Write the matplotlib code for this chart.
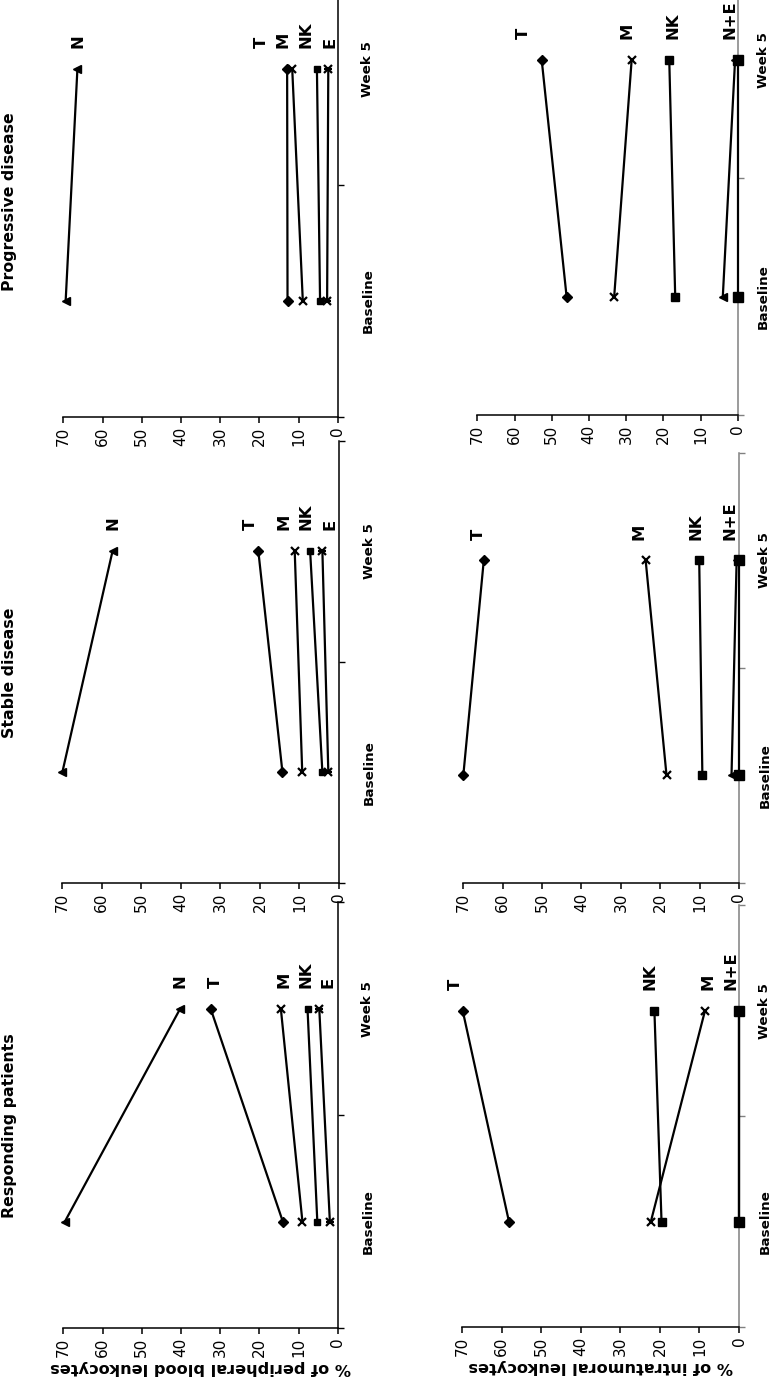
import matplotlib.pyplot as plt

W, H = 773, 1382

timepoints = ['Baseline', 'Week 5']
groups = ['Progressive disease', 'Stable disease', 'Responding patients']

# peripheral blood leukocytes (%), [baseline, week 5]
pb_cells = ['N', 'T', 'M', 'NK', 'E']
pb_progressive = [[69.4, 66.4], [12.8, 12.9], [8.9, 11.6], [4.5, 5.3], [2.7, 2.4]]
pb_stable = [[70.0, 57.3], [14.3, 20.4], [9.3, 11.2], [4.2, 7.3], [2.7, 4.2]]
pb_responding = [[69.6, 40.2], [14.0, 32.4], [9.0, 14.5], [5.2, 7.7], [2.0, 4.7]]

# intratumoral leukocytes (%), [baseline, week 5]
it_cells = ['T', 'M', 'NK', 'N', 'E']
it_progressive = [[46.0, 52.7], [33.2, 28.5], [16.8, 18.4], [4.0, 0.7], [0.0, 0.0]]
it_stable = [[70.0, 64.8], [18.4, 23.7], [9.3, 10.1], [1.9, 0.6], [0.0, 0.0]]
it_responding = [[58.2, 69.9], [22.3, 8.6], [19.6, 21.4], [0.0, 0.0], [0.0, 0.0]]

# series labels next to the week 5 points
pb_label_text = ['N', 'T', 'M', 'NK', 'E']
it_label_text = ['T', 'M', 'NK', 'N+E']

# layout (pixels) and label placement
pb_boxes = [(63.3, 337.7, 417, 232, 2.0), (62.3, 339, 883, 243, 1.82), (63.3, 337.7, 1328, 224, 1.9)]
it_boxes = [(477.3, 737.7, 415, 237, 2.0), (463.3, 739, 883, 239, 1.8), (462.3, 739, 1327, 222, 1.9)]
pb_label_x = [[66.2, 19.4, 13.9, 8.1, 2.0], [57.1, 22.5, 13.9, 8.3, 2.3], [40.2, 31.3, 13.7, 8.1, 2.4]]
it_label_x = [[57.5, 29.8, 17.5, 2.1], [66.2, 25.3, 10.9, 2.3], [71.8, 7.8, 22.5, 1.9]]
title_y = [202, 673, 1126]

pb_markers = {'N': ('<', 6), 'T': ('D', 5), 'M': ('x', 6), 'NK': ('s', 5), 'E': ('x', 6)}
it_markers = {'N': ('<', 6), 'T': ('D', 5), 'M': ('x', 6), 'NK': ('s', 5.5), 'E': ('s', 6.5)}

plt.rcParams['font.family'] = ['DejaVu Sans']
fig = plt.figure(figsize=(W / 100, H / 100), dpi=100)


def make_ax(box, spine_color, cat_pad):
    x0, x1, yb, unit, top = box
    ax = fig.add_axes([x0 / W, (H - yb) / H, (x1 - x0) / W, top * unit / H])
    ax.patch.set_visible(False)
    ax.set_xlim(70, 0)
    ax.set_ylim(0, top)
    ax.spines['left'].set_visible(False)
    ax.spines['top'].set_visible(False)
    ax.spines['bottom'].set_linewidth(1.1)
    ax.spines['right'].set_linewidth(1.1)
    ax.spines['right'].set_color(spine_color)
    ax.set_xticks(range(0, 71, 10))
    ax.tick_params(axis='x', direction='out', length=4, width=1.1, labelsize=11,
                   labelrotation=90, pad=3)
    ax.yaxis.tick_right()
    ax.set_yticks([0, 1, 2])
    ax.set_yticklabels([])
    ax.tick_params(axis='y', which='major', direction='out', length=4, width=1,
                   color=spine_color)
    ax.set_yticks([0.5, 1.5], timepoints, minor=True)
    ax.tick_params(axis='y', which='minor', length=0, pad=cat_pad, labelsize=9.7)
    for lbl in ax.get_yticklabels(minor=True):
        lbl.set_rotation(90)
        lbl.set_fontweight('bold')
        lbl.set_va('center')
        lbl.set_ha('left')
    return ax


def draw(ax, cells, data, markers, e_bar):
    pos = [i + 0.5 for i in range(len(timepoints))]
    for name, vals in zip(cells, data):
        m, ms = markers[name]
        mew = 1.6 if m == 'x' else 1
        ax.plot(vals, pos, color='black', lw=1.6, marker=m, ms=ms, mew=mew,
                mfc='black', mec='black', clip_on=False, zorder=3)
        if name == 'E' and e_bar:
            ax.plot(vals, pos, ls='none', marker='_', ms=6, mew=1.6,
                    color='black', clip_on=False, zorder=3)


def add_labels(ax, texts, xs):
    for t, x in zip(texts, xs):
        ax.annotate(t, xy=(x, 1.5), xytext=(0, 15), textcoords='offset points',
                    rotation=90, ha='center', va='bottom', fontsize=11.8,
                    fontweight='bold', annotation_clip=False)


pb_data = [pb_progressive, pb_stable, pb_responding]
it_data = [it_progressive, it_stable, it_responding]

for i in range(3):
    ax = make_ax(pb_boxes[i], 'black', 17)
    draw(ax, pb_cells, pb_data[i], pb_markers, True)
    add_labels(ax, pb_label_text, pb_label_x[i])
    if i == 2:
        ax.set_xlabel('% of peripheral blood leukocytes', rotation=180,
                      fontsize=11.6, fontweight='bold', labelpad=2)

    ax2 = make_ax(it_boxes[i], '#808080', 14)
    draw(ax2, it_cells, it_data[i], it_markers, False)
    add_labels(ax2, it_label_text, it_label_x[i])
    if i == 2:
        ax2.set_xlabel('% of intratumoral leukocytes', rotation=180,
                       fontsize=11.6, fontweight='bold', labelpad=2)

    fig.text(10 / W, 1 - title_y[i] / H, groups[i], rotation=90, ha='center',
             va='center', fontsize=11.3, fontweight='bold')

fig.savefig('out.png', dpi=100, facecolor='white')
